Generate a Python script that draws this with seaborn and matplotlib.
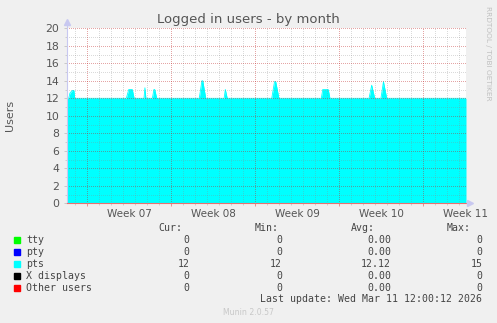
import matplotlib
matplotlib.use("Agg")
import matplotlib.pyplot as plt
import seaborn as sns
import pandas as pd
import numpy as np
from matplotlib.patches import Rectangle

# ---- data (x in days from the start of Week 07) ----
days = [-1.72, -1.55, -1.45, -1.25, -1.12, -1.05, 3.25, 3.45, 3.75, 3.9,
        4.72, 4.8, 4.88, 5.42, 5.55, 5.62, 5.78, 9.33, 9.55, 9.62, 9.87,
        11.4, 11.5, 11.66, 15.37, 15.6, 15.7, 15.97, 19.5, 19.62, 20.08, 20.22,
        23.48, 23.7, 23.95, 24.47, 24.68, 24.95, 31.56]
pts = [12, 12, 12.6, 12.9, 12.9, 12, 12, 13, 13, 12,
       12, 13.2, 12, 12, 13, 13, 12, 12, 14, 14, 12,
       12, 13, 12, 12, 13.9, 13.9, 12, 12, 13, 13, 12,
       12, 13.5, 12, 12, 13.9, 12, 12]

week_starts = [0, 7, 14, 21, 28]
week_label_pos = [3.5, 10.5, 17.5, 24.5, 31.5]
week_labels = ["Week 07", "Week 08", "Week 09", "Week 10", "Week 11"]

series_names = ["tty", "pty", "pts", "X displays", "Other users"]
series_colors = ["#00ff00", "#0000ff", "#00ffff", "#000000", "#ff0000"]
cur_vals = ["0", "0", "12", "0", "0"]
min_vals = ["0", "0", "12", "0", "0"]
avg_vals = ["0.00", "0.00", "12.12", "0.00", "0.00"]
max_vals = ["0", "0", "15", "0", "0"]
last_update = "Last update: Wed Mar 11 12:00:12 2026"

df = pd.DataFrame({"day": days, "users": pts})

W, H = 497, 323
fig = plt.figure(figsize=(W / 100, H / 100), dpi=100, facecolor="#f0f0f0")
x0, x1, ytop, ybot = 66.7, 466.0, 28.3, 203.3
ax = fig.add_axes([x0 / W, (H - ybot) / H, (x1 - x0) / W, (ybot - ytop) / H])
ax.set_facecolor("white")

xmin, xmax = -1.72, 31.56
ax.fill_between(df["day"], 0, df["users"], color="#00ffff", lw=0, zorder=1)
sns.lineplot(data=df, x="day", y="users", ax=ax, color="#00ffff", lw=0.6, zorder=1)

ax.set_xlim(xmin, xmax)
ax.set_ylim(0, 20)

major_col = (0.75, 0.12, 0.12, 0.40)
minor_col = (0.55, 0.55, 0.55, 0.32)
dot = (0, (1, 2))
glw = 0.72
for d in range(-1, 32):
    if d in week_starts:
        continue
    ax.axvline(d, color=minor_col, lw=glw, ls=dot, zorder=2, antialiased=False)
for d in week_starts:
    ax.axvline(d, color=major_col, lw=glw, ls=dot, zorder=3, antialiased=False)
for v in range(1, 21):
    ax.axhline(v, color=(major_col if v % 2 == 0 else minor_col), lw=glw, ls=dot,
               zorder=3 if v % 2 == 0 else 2, antialiased=False)

ax.set_xticks(week_starts)
ax.set_xticks([d for d in range(-1, 32)], minor=True)
ax.set_xticklabels([])
ax.tick_params(axis="x", which="major", length=2.2, color="#e89090", width=0.7)
ax.tick_params(axis="x", which="minor", length=1.6, color="#c8c8c8", width=0.6)
ax.set_yticks(range(0, 21, 2))
ax.set_yticks(range(1, 20, 2), minor=True)
ax.tick_params(axis="y", which="major", length=2.2, color="#c8c8c8", width=0.7,
               labelsize=7.8, labelcolor="#555555", pad=3)
ax.tick_params(axis="y", which="minor", length=1.6, color="#c8c8c8", width=0.6)

sec = ax.secondary_xaxis("bottom")
sec.set_xticks(week_label_pos)
sec.set_xticklabels(week_labels)
sec.tick_params(length=0, labelsize=7.5, labelcolor="#555555", pad=4)
sec.spines["bottom"].set_visible(False)

for s in ["top", "right"]:
    ax.spines[s].set_visible(False)
ax.spines["left"].set_color("#c8c8f0")
ax.spines["left"].set_linewidth(0.8)
ax.spines["left"].set_bounds(0, 20.6)
ax.spines["bottom"].set_color("#e87070")
ax.spines["bottom"].set_linewidth(0.8)
ax.set_xlabel("")
ax.set_ylabel("")
ax.spines["left"].set_zorder(5)
ax.spines["bottom"].set_zorder(5)

# axis arrows
ax.plot([xmin], [20.7], marker="^", ms=4, color="#c8c8f0", clip_on=False, zorder=6)
ax.plot([xmax + 0.3], [0], marker=">", ms=4, color="#c8c8f0", clip_on=False, zorder=6)

def fx(px):
    return px / W

def fy(py):
    return 1 - py / H

fig.text(fx(248.5), fy(19), "Logged in users - by month", ha="center", va="center",
         fontsize=9.5, color="#555555")
fig.text(fx(10.5), fy(115), "Users", rotation=90, ha="center", va="center",
         fontsize=8, color="#555555")
fig.text(fx(488), fy(53), "RRDTOOL / TOBI OETIKER", rotation=270, ha="center",
         va="center", fontsize=5.3, color="#c0c0c0")
fig.text(fx(248), fy(312.5), "Munin 2.0.57", ha="center", va="center",
         fontsize=5.6, color="#c8c8c8")

mono = dict(family="DejaVu Sans Mono", fontsize=7.1, color="#444444", va="center")
fig.text(fx(158), fy(227.7), "Cur:", ha="left", **mono)
fig.text(fx(254.3), fy(227.7), "Min:", ha="left", **mono)
fig.text(fx(351), fy(227.7), "Avg:", ha="left", **mono)
fig.text(fx(446.7), fy(227.7), "Max:", ha="left", **mono)
row_y = [240, 252, 263.8, 275.8, 287.8]
for i, name in enumerate(series_names):
    y = row_y[i]
    fig.patches.append(Rectangle((fx(14), fy(y + 3)), 6 / W, 6 / H,
                                 transform=fig.transFigure, color=series_colors[i]))
    fig.text(fx(26.3), fy(y), name, ha="left", **mono)
    fig.text(fx(189.5), fy(y), cur_vals[i], ha="right", **mono)
    fig.text(fx(282), fy(y), min_vals[i], ha="right", **mono)
    fig.text(fx(391), fy(y), avg_vals[i], ha="right", **mono)
    fig.text(fx(482.5), fy(y), max_vals[i], ha="right", **mono)
fig.text(fx(482.5), fy(299.5), last_update, ha="right", **mono)

fig.savefig("out.png", dpi=100, facecolor=fig.get_facecolor())
